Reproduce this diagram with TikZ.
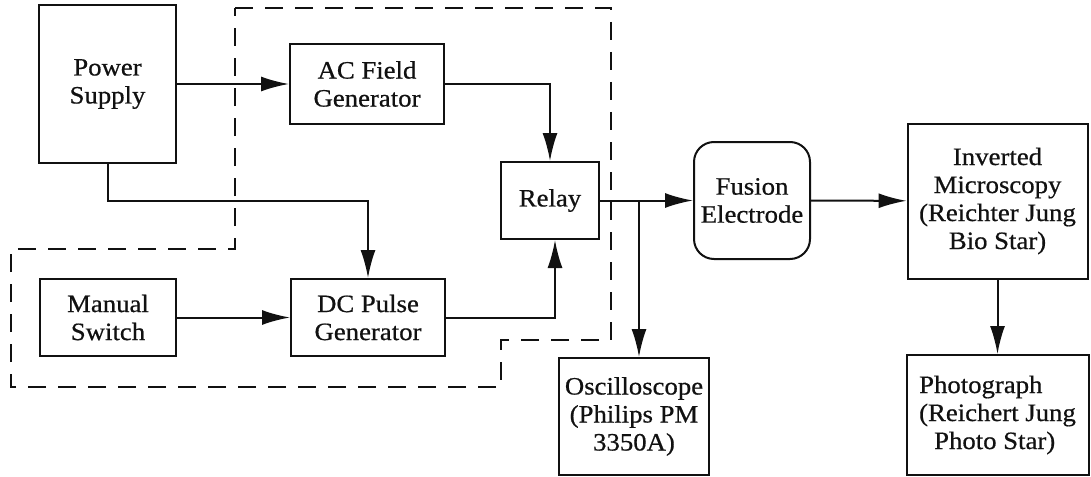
\documentclass[tikz,border=0pt]{standalone}
\usepackage{fontspec}
\setmainfont{Liberation Serif}[FakeStretch=1.07,FakeBold=0.6]
\usepackage{tikz}
\usetikzlibrary{positioning,calc,arrows.meta}
\definecolor{ink}{HTML}{111111}
\tikzset{
  every node/.style={font=\fontsize{12.5}{14}\selectfont},
  % --- nodes
  blk/.style   = {draw=ink, line width=1pt, align=center, inner sep=2pt, text=ink},
  rnd/.style   = {blk, rounded corners=10pt},
  % --- edges
  e/.style     = {-{Latex[length=14pt,width=7.5pt]}, line width=1pt, draw=ink},
  bound/.style = {dash pattern=on 9pt off 6pt, line width=1pt, draw=ink},
}
\begin{document}
\begin{tikzpicture}[x=0.5pt,y=-0.5pt]
  \useasboundingbox (0,0) rectangle (1091,476);
  \node[blk, minimum width=68.5pt, minimum height=78.5pt] (ps) at (107.5,84) {Power\\Supply};
  \node[blk, minimum width=77pt, minimum height=40pt] (ac) at (367,84) {AC Field\\Generator};
  \node[blk, minimum width=49pt, minimum height=38.5pt] (relay) at (550,200.5) {Relay};
  \node[blk, minimum width=68pt, minimum height=38.5pt] (ms) at (108,317.5) {Manual\\Switch};
  \node[blk, minimum width=77pt, minimum height=38.5pt] (dc) at (368,317.5) {DC Pulse\\Generator};
  \node[rnd, minimum width=58pt, minimum height=58.5pt] (fe) at (752,200.5) {Fusion\\Electrode};
  \node[blk, minimum width=75pt, minimum height=58.5pt] (osc) at (634,416.5) {Oscilloscope\\(Philips PM\\3350A)};
  \node[blk, minimum width=90pt, minimum height=77.5pt] (im) at (997.5,201) {Inverted\\Microscopy\\(Reichter Jung\\Bio Star)};
  \node[blk, minimum width=91pt, minimum height=60pt, align=left] (ph) at (997.5,415) {Photograph\\(Reichert Jung\\\hspace{0.6em}Photo Star)};
  \coordinate (tap) at (639,200.5);
  \draw[bound] (235,8) -- (611,8) -- (611,340) -- (501,340) -- (501,387)
    -- (11,387) -- (11,249) -- (235,249) -- cycle;
  \draw[e] (ps) -- (ac);
  \draw[e] (ps.south) |- (dc.north |- relay) -- (dc.north);
  \draw[e] (ac.east) -| (relay.north);
  \draw[e] (ms) -- (dc);
  \draw[e] (dc.east) -| ([xshift=2.5pt]relay.south);
  \draw[e] (relay) -- (fe);
  \draw[e] (tap) -- (tap |- osc.north);
  \draw[e] (fe) -- (im);
  \draw[e] (im) -- (ph);
\end{tikzpicture}
\end{document}
